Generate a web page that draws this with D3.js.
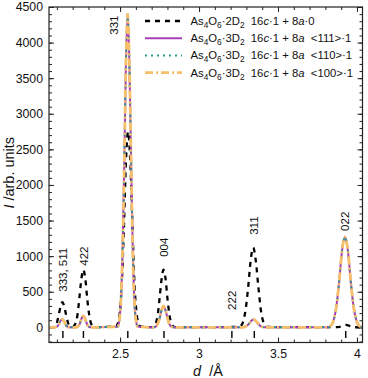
<!DOCTYPE html>
<html>
<head>
<meta charset="utf-8">
<script src="https://cdn.jsdelivr.net/npm/d3@7"></script>
<style>
  body { margin: 0; background: #fff; }
  svg { font-family: "Liberation Sans", Arial, sans-serif; }
  .tick text { font-size: 12.3px; fill: #111; }
  .axis_label { font-size: 14.5px; fill: #111; white-space: pre; }
  .legend text { font-size: 11.3px; fill: #111; white-space: pre; }
  .hkl { font-size: 11.5px; fill: #111; }
</style>
</head>
<body>
<div id="vis"></div>
<script>
// d-spacing grid and intensities
var dBlack = [2.05, 2.072, 2.090, 2.101, 2.112, 2.124, 2.135, 2.146, 2.158, 2.169, 2.180, 2.200,
  2.217, 2.230, 2.242, 2.255, 2.267, 2.280, 2.292, 2.305, 2.317, 2.337,
  2.474, 2.485, 2.496, 2.510, 2.524, 2.537, 2.551, 2.565, 2.579, 2.592, 2.606, 2.617, 2.628,
  2.705, 2.725, 2.738, 2.750, 2.763, 2.775, 2.788, 2.800, 2.813, 2.825, 2.845,
  3.252, 3.265, 3.278, 3.294, 3.311, 3.327, 3.343, 3.359, 3.376, 3.392, 3.408, 3.421, 3.434,
  3.880, 3.905, 3.930, 3.955, 3.980, 4.035];
var i2D2 = [0, 2, 22, 75, 178, 299, 355, 299, 178, 75, 22, 7,
  51, 170, 405, 681, 810, 681, 405, 170, 51, 3,
  12, 51, 172, 578, 1375, 2313, 2750, 2313, 1375, 578, 172, 51, 12,
  3, 51, 170, 405, 681, 810, 681, 405, 170, 51, 3,
  5, 21, 70, 235, 560, 942, 1120, 942, 560, 235, 70, 21, 5,
  2, 18, 35, 18, 2, 0];

var dColor = [2.05, 2.084, 2.098, 2.107, 2.116, 2.124, 2.133, 2.142, 2.151, 2.159, 2.168, 2.182,
  2.218, 2.232, 2.241, 2.250, 2.258, 2.267, 2.276, 2.285, 2.293, 2.302, 2.316,
  2.485, 2.494, 2.503, 2.514, 2.526, 2.537, 2.548, 2.559, 2.571, 2.582, 2.593, 2.602, 2.611,
  2.712, 2.730, 2.741, 2.753, 2.764, 2.775, 2.786, 2.798, 2.809, 2.820, 2.838,
  3.268, 3.290, 3.304, 3.318, 3.331, 3.345, 3.359, 3.373, 3.386, 3.400, 3.422,
  3.819, 3.834, 3.849, 3.868, 3.887, 3.905, 3.924, 3.943, 3.961, 3.980, 3.999, 4.014, 4.035];
var i111 = [0, 0, 7, 24, 58, 97, 115, 97, 58, 24, 7, 0,
  0, 10, 34, 80, 135, 160, 135, 80, 34, 10, 0,
  10, 81, 275, 924, 2200, 3700, 4400, 3700, 2200, 924, 275, 81, 10,
  0, 19, 63, 150, 252, 300, 252, 150, 63, 19, 0,
  0, 7, 23, 55, 92, 110, 92, 55, 23, 7, 0,
  0, 23, 79, 267, 635, 1068, 1270, 1068, 635, 267, 79, 23, 3];
var i110 = [0, 0, 7, 24, 58, 97, 115, 97, 58, 24, 7, 0,
  0, 10, 34, 80, 135, 160, 135, 80, 34, 10, 0,
  10, 81, 275, 924, 2200, 3700, 4400, 3700, 2200, 924, 275, 81, 10,
  0, 19, 63, 150, 252, 300, 252, 150, 63, 19, 0,
  0, 7, 23, 55, 92, 110, 92, 55, 23, 7, 0,
  0, 23, 79, 267, 635, 1068, 1270, 1068, 635, 267, 79, 23, 3];
var i100 = [0, 0, 7, 24, 58, 97, 115, 97, 58, 24, 7, 0,
  0, 10, 34, 80, 135, 160, 135, 80, 34, 10, 0,
  10, 81, 275, 924, 2200, 3700, 4400, 3700, 2200, 924, 275, 81, 10,
  0, 19, 63, 150, 252, 300, 252, 150, 63, 19, 0,
  0, 7, 23, 55, 92, 110, 92, 55, 23, 7, 0,
  0, 23, 79, 267, 635, 1068, 1270, 1068, 635, 267, 79, 23, 3];

// reflection positions (tick marks under the baseline)
var reflD = [2.138, 2.268, 2.549, 2.778, 3.208, 3.350, 3.929];

// hkl annotations
var hklText = ["333, 511", "422", "331", "004", "222", "311", "022"];
var hklD = [2.137, 2.272, 2.462, 2.775, 3.205, 3.350, 3.922];
var hklI = [500, 865, 4110, 990, 245, 1300, 1355];

var xMajor = [2.5, 3, 3.5, 4];
var yMajor = [0, 500, 1000, 1500, 2000, 2500, 3000, 3500, 4000, 4500];

var width = 368, height = 378;
var plotL = 49, plotR = 362.5, plotT = 7, plotB = 342.5;

var svg = d3.select("#vis").append("svg")
    .attr("width", width)
    .attr("height", height);

var xScale = d3.scaleLinear().domain([2.05, 4.035]).range([plotL, plotR]);
var yScale = d3.scaleLinear().domain([-213, 4500]).range([plotB, plotT]);

svg.append("clipPath").attr("id", "clip")
  .append("rect")
    .attr("x", plotL).attr("y", plotT)
    .attr("width", plotR - plotL).attr("height", plotB - plotT);

// ticks, all pointing inwards
var xMinor = d3.range(21, 41).map(function(v){ return v / 10; });
var yMinor = d3.range(-200, 4501, 100);

function addAxis(axis, tx, ty){
  var g = svg.append("g")
      .attr("transform", "translate(" + tx + "," + ty + ")")
      .call(axis);
  g.select(".domain").remove();
  g.selectAll(".tick line").attr("stroke", "#222");
  return g;
}

addAxis(d3.axisBottom(xScale).tickValues(xMajor).tickSize(-5).tickPadding(7)
  .tickFormat(d3.format("")), 0, plotB);
addAxis(d3.axisBottom(xScale).tickValues(xMinor).tickSize(-3).tickFormat(""), 0, plotB);
addAxis(d3.axisTop(xScale).tickValues(xMajor).tickSize(-5).tickFormat(""), 0, plotT);
addAxis(d3.axisTop(xScale).tickValues(xMinor).tickSize(-3).tickFormat(""), 0, plotT);
addAxis(d3.axisLeft(yScale).tickValues(yMajor).tickSize(-5).tickPadding(6)
  .tickFormat(d3.format("d")), plotL, 0);
addAxis(d3.axisLeft(yScale).tickValues(yMinor).tickSize(-3).tickFormat(""), plotL, 0);
addAxis(d3.axisRight(yScale).tickValues(yMajor).tickSize(-5).tickFormat(""), plotR, 0);
addAxis(d3.axisRight(yScale).tickValues(yMinor).tickSize(-3).tickFormat(""), plotR, 0);

svg.selectAll(".tick text").attr("fill", "#111");

// curves
function series(ds, is){
  return ds.map(function(d, i){ return {d: d, v: is[i]}; });
}

var line = d3.line()
    .x(function(p){ return xScale(p.d); })
    .y(function(p){ return yScale(p.v); })
    .curve(d3.curveMonotoneX);

var styles = [
  {data: series(dBlack, i2D2), color: "#000000", w: 2.3, dash: "5,5"},
  {data: series(dColor, i111), color: "#a93fba", w: 2, dash: null},
  {data: series(dColor, i110), color: "#2a9d8a", w: 2, dash: "2,4"},
  {data: series(dColor, i100), color: "#f6c06b", w: 2.8, dash: "8,3,2,3"}
];

var plot = svg.append("g").attr("clip-path", "url(#clip)");

styles.forEach(function(s){
  plot.append("path")
      .datum(s.data)
      .attr("fill", "none")
      .attr("stroke", s.color)
      .attr("stroke-width", s.w)
      .attr("stroke-dasharray", s.dash)
      .attr("d", line);
});

// reflection marks
plot.selectAll(".refl")
  .data(reflD)
  .enter().append("line")
    .attr("class", "refl")
    .attr("x1", function(d){ return xScale(d); })
    .attr("x2", function(d){ return xScale(d); })
    .attr("y1", yScale(-50))
    .attr("y2", yScale(-150))
    .attr("stroke", "#000")
    .attr("stroke-width", 1.4);

// hkl labels
svg.selectAll(".hkl")
  .data(hklText)
  .enter().append("text")
    .attr("class", "hkl")
    .attr("transform", function(t, i){
      return "translate(" + xScale(hklD[i]) + "," + yScale(hklI[i]) + ") rotate(-90)";
    })
    .attr("dy", "0.36em")
    .text(function(t){ return t; });

// frame
svg.append("rect")
    .attr("x", plotL).attr("y", plotT)
    .attr("width", plotR - plotL).attr("height", plotB - plotT)
    .attr("fill", "none")
    .attr("stroke", "#222")
    .attr("stroke-width", 1.2);

// axis labels
var yl = svg.append("text")
    .attr("class", "axis_label")
    .attr("transform", "translate(14," + ((plotT + plotB) / 2 - 2) + ") rotate(-90)")
    .attr("text-anchor", "middle");
yl.append("tspan").attr("font-style", "italic").text("I");
yl.append("tspan").text(" /arb. units");

var xl = svg.append("text")
    .attr("class", "axis_label")
    .attr("x", 208)
    .attr("y", 376)
    .attr("text-anchor", "middle");
xl.append("tspan").attr("font-style", "italic").text("d");
xl.append("tspan").text("  /\u00c5");

// legend
var legendRows = [
  [["As"], ["4", "sub"], ["O"], ["6", "sub"], ["\u00b72D"], ["2", "sub"], ["  16"], ["c", "it"], ["\u00b71 + 8"], ["a", "it"], ["\u00b70"]],
  [["As"], ["4", "sub"], ["O"], ["6", "sub"], ["\u00b73D"], ["2", "sub"], ["  16"], ["c", "it"], ["\u00b71 + 8"], ["a", "it"], ["  <111>\u00b71"]],
  [["As"], ["4", "sub"], ["O"], ["6", "sub"], ["\u00b73D"], ["2", "sub"], ["  16"], ["c", "it"], ["\u00b71 + 8"], ["a", "it"], ["  <110>\u00b71"]],
  [["As"], ["4", "sub"], ["O"], ["6", "sub"], ["\u00b73D"], ["2", "sub"], ["  16"], ["c", "it"], ["\u00b71 + 8"], ["a", "it"], ["  <100>\u00b71"]]
];

var legend = svg.append("g").attr("class", "legend");
legendRows.forEach(function(row, r){
  var y = 21 + r * 17.2;
  var s = styles[r];
  legend.append("line")
      .attr("x1", 145).attr("x2", 182)
      .attr("y1", y).attr("y2", y)
      .attr("stroke", s.color)
      .attr("stroke-width", s.w)
      .attr("stroke-dasharray", s.dash);
  var t = legend.append("text").attr("x", 190.5).attr("y", y + 4);
  var shifted = false;
  row.forEach(function(seg){
    var sp = t.append("tspan").text(seg[0]);
    if (seg[1] === "sub") {
      sp.attr("dy", 3).attr("font-size", "8.3px");
      shifted = true;
    } else {
      if (shifted) { sp.attr("dy", -3); shifted = false; }
      if (seg[1] === "it") sp.attr("font-style", "italic");
    }
  });
});
</script>
</body>
</html>
